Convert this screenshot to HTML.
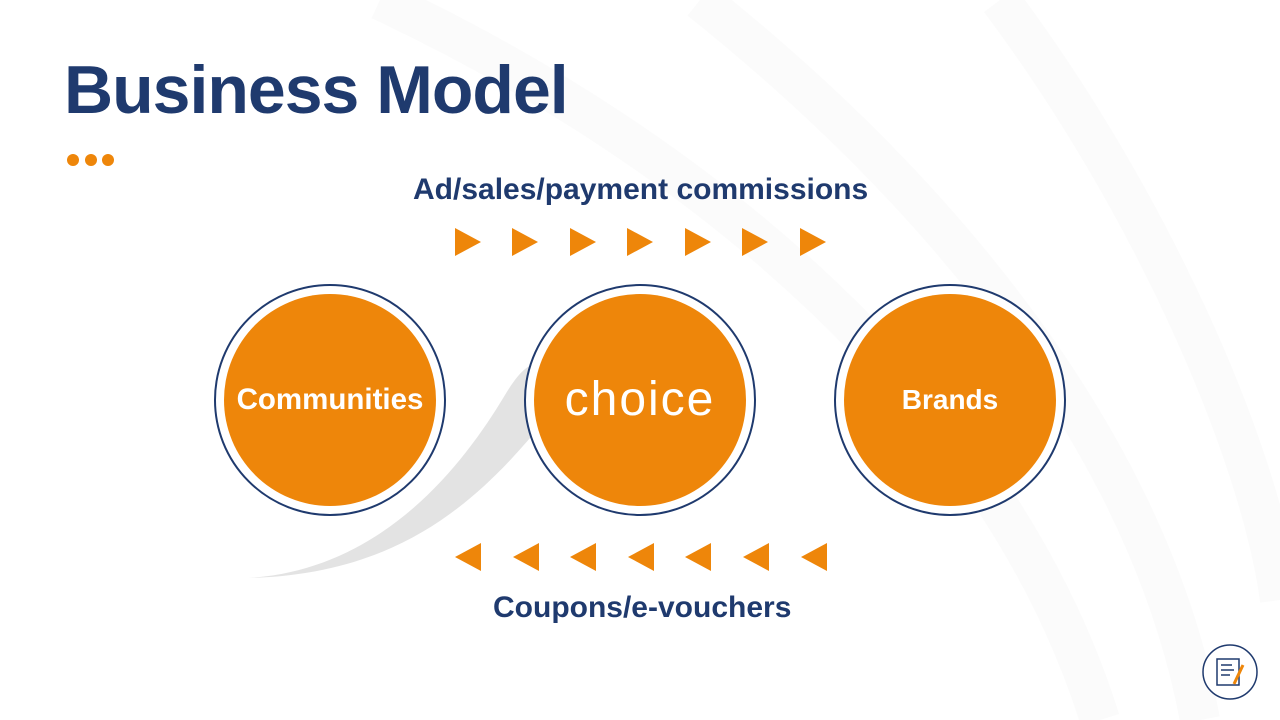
<!DOCTYPE html>
<html><head><meta charset="utf-8"><style>
html,body{margin:0;padding:0}
body{width:1280px;height:720px;position:relative;overflow:hidden;background:#fff;font-family:"Liberation Sans",sans-serif}
.t{position:absolute;color:#1f3a6e;font-weight:bold;white-space:nowrap}
</style></head><body>
<svg width="1280" height="720" style="position:absolute;left:0;top:0">
 <g fill="none" stroke="#fbfbfb" stroke-width="40">
  <path d="M380 0 C 700 150, 1000 400, 1100 720"/>
  <path d="M700 0 C 950 200, 1150 450, 1200 720"/>
  <path d="M1000 0 C 1150 200, 1260 450, 1280 600"/>
 </g>
 <path d="M248 578 C 380 570, 460 470, 505 395 C 520 370, 530 362, 545 362 L 545 420 C 480 500, 400 575, 248 578 Z" fill="#e3e3e3"/>
 <g fill="#ee860a">
  <circle cx="73" cy="160" r="6"/><circle cx="91" cy="160" r="6"/><circle cx="108" cy="160" r="6"/>
 </g>
 <g>
  <circle cx="330" cy="400" r="115" fill="#fff" stroke="#1f3a6e" stroke-width="2"/>
  <circle cx="330" cy="400" r="106" fill="#ee860a"/>
  <circle cx="640" cy="400" r="115" fill="#fff" stroke="#1f3a6e" stroke-width="2"/>
  <circle cx="640" cy="400" r="106" fill="#ee860a"/>
  <circle cx="950" cy="400" r="115" fill="#fff" stroke="#1f3a6e" stroke-width="2"/>
  <circle cx="950" cy="400" r="106" fill="#ee860a"/>
 </g>
 <g fill="#ee860a">
  <polygon points="455,228 481,242 455,256"/>
  <polygon points="512,228 538,242 512,256"/>
  <polygon points="570,228 596,242 570,256"/>
  <polygon points="627,228 653,242 627,256"/>
  <polygon points="685,228 711,242 685,256"/>
  <polygon points="742,228 768,242 742,256"/>
  <polygon points="800,228 826,242 800,256"/>
  <polygon points="481,543 455,557 481,571"/>
  <polygon points="539,543 513,557 539,571"/>
  <polygon points="596,543 570,557 596,571"/>
  <polygon points="654,543 628,557 654,571"/>
  <polygon points="711,543 685,557 711,571"/>
  <polygon points="769,543 743,557 769,571"/>
  <polygon points="827,543 801,557 827,571"/>
 </g>
 <circle cx="1230" cy="672" r="27" fill="#fff" stroke="#1f3a6e" stroke-width="1.5"/>
 <rect x="1217" y="659" width="22" height="26" fill="none" stroke="#1f3a6e" stroke-width="1.5"/>
 <g stroke="#1f3a6e" stroke-width="1.5"><line x1="1221" y1="665" x2="1232" y2="665"/><line x1="1221" y1="670" x2="1234" y2="670"/><line x1="1221" y1="675" x2="1230" y2="675"/></g>
 <line x1="1243" y1="665" x2="1234" y2="684" stroke="#ee860a" stroke-width="3"/>
</svg>
<div class="t" style="left:64px;top:51px;font-size:68px;letter-spacing:-1px">Business Model</div>
<div class="t" style="left:413px;top:173px;font-size:30px">Ad/sales/payment commissions</div>
<div class="t" style="left:493px;top:591px;font-size:30px">Coupons/e-vouchers</div>
<div class="t" style="left:224px;top:383px;width:212px;text-align:center;color:#fff;font-size:29.5px">Communities</div>
<div class="t" style="left:534px;top:372px;width:212px;text-align:center;color:#fff;font-size:48px;font-weight:normal;letter-spacing:2px">choice</div>
<div class="t" style="left:844px;top:384px;width:212px;text-align:center;color:#fff;font-size:28px">Brands</div>
</body></html>
